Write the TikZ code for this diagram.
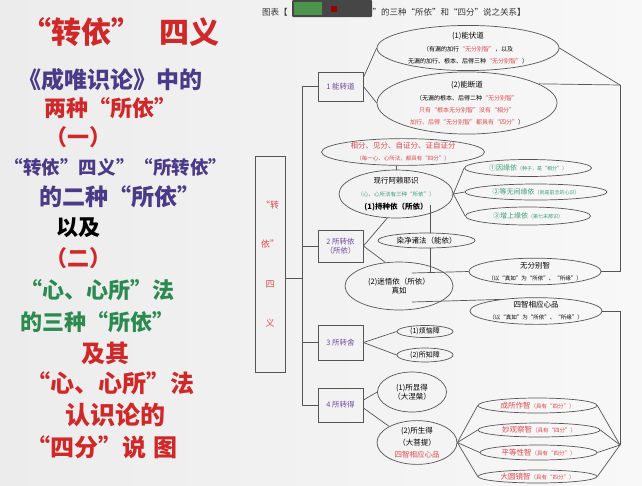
\documentclass[tikz,border=0pt]{standalone}
\usepackage{fontspec}
\setmainfont{Noto Sans CJK SC}
\usetikzlibrary{shapes.geometric}
\definecolor{bgl}{HTML}{ECECEC}
\definecolor{bgr}{HTML}{F8F8F8}
\definecolor{tred}{HTML}{D02828}
\definecolor{tpur}{HTML}{4B3A88}
\definecolor{tgrn}{HTML}{2A8A50}
\definecolor{dred}{HTML}{E0474B}
\definecolor{dgrn}{HTML}{3A9C74}
\definecolor{dpur}{HTML}{6E4AA0}
\definecolor{lnc}{HTML}{555555}
\newcommand\myfs[1]{\fontsize{#1}{#1}\selectfont\bfseries}
\newcommand\dfs[1]{\fontsize{#1}{\dimexpr #1pt*5/4\relax}\selectfont}
\newcommand\rd[1]{\textcolor{dred}{#1}}
\tikzset{
  lt/.style={inner sep=0pt},
  ell/.style={ellipse, draw=lnc, line width=0.7pt, inner sep=0pt, align=center},
  bx/.style={rectangle, draw=lnc, line width=0.9pt, inner sep=0pt, align=center, text=dpur, font=\dfs{7.5}},
  ln/.style={draw=lnc, line width=0.7pt},
}
\begin{document}
\begin{tikzpicture}[x=1pt,y=-1pt]
\shade[left color=bgl, right color=bgr] (0,0) rectangle (642,485);
\useasboundingbox (0,0) rectangle (642,485);

% ---------- left text ----------
\node[lt, text=tred, font=\myfs{30}] (L1) at (120,32) {“转依”\hspace{0.6em}四义};
\node[lt, text=tpur, font=\myfs{23}] (L2) at (110,80) {《成唯识论》中的};
\node[lt, text=tred, font=\myfs{22}] (L3) at (110,108) {两种“所依”};
\node[lt, text=tred, font=\myfs{22}] (L4) at (78,137) {（一）};
\node[lt, text=tpur, font=\myfs{18.5}] (L5) at (116,167) {“转依”四义”“所转依”};
\node[lt, text=tpur, font=\myfs{23}] (L6) at (120,197) {的二种“所依”};
\node[lt, text=black, font=\myfs{22}] (L7) at (78,228) {以及};
\node[lt, text=tred, font=\myfs{22}] (L8) at (78,258) {（二）};
\node[lt, text=tgrn, font=\myfs{22}] (L9) at (97,290) {“心、心所”法};
\node[lt, text=tgrn, font=\myfs{22}] (L10) at (97,322) {的三种“所依”};
\node[lt, text=tred, font=\myfs{24}] (L11) at (105,353) {及其};
\node[lt, text=tred, font=\myfs{24}] (L12) at (110,383) {“心、心所”法};
\node[lt, text=tred, font=\myfs{25}] (L13) at (115,415) {认识论的};
\node[lt, text=tred, font=\myfs{24}] (L14) at (102,447) {“四分”说\hspace{0.3em}图};

% ---------- title ----------
\node[lt, anchor=west, font=\dfs{8.5}, text=black!80] (ttl) at (262,12) {图表【“转依”与“心、心所”的三种“所依”和“四分”说之关系】};
\fill[gray!55!black, rounded corners=1pt] (292,0) rectangle (372,17);
\fill[green!40!black!70] (294,2) rectangle (322,15);
\fill[red!60!black] (331,6) rectangle (337,12);

% ---------- big box ----------
\node[rectangle, draw=lnc, line width=0.9pt, minimum width=30, minimum height=216, inner sep=0pt, align=center, text=dred, font=\fontsize{9}{39.5}\selectfont] (zy) at (270,264) {“转\\依”\\四\\义};

% spine
\coordinate (sp1) at (302,86.5);
\coordinate (sp4) at (302,405);
\draw[ln] (sp1) -- (sp4);
\draw[ln] ([yshift=-14pt]zy.east) -- ([yshift=-14pt]zy.east -| sp1);

% boxes
\node[bx, minimum width=45, minimum height=29] (b1) at (340.5,86.5) {1 能转道};
\node[bx, minimum width=45, minimum height=32] (b2) at (340.5,246) {2 所转依\\（所依）};
\node[bx, minimum width=45, minimum height=35] (b3) at (340.5,342.5) {3 所转舍};
\node[bx, minimum width=45, minimum height=34] (b4) at (340.5,405) {4 所转得};
\draw[ln] (sp1) -- (b1.west);
\draw[ln] (b2.west -| sp1) -- (b2.west);
\draw[ln] (b3.west -| sp1) -- (b3.west);
\draw[ln] (sp4) -- (b4.west);

% ---------- 1 能转道 ----------
\node[ell, minimum width=182, minimum height=40] (e11) at (468,48)
 {{\dfs{7.5}(1)能伏道}\\[1pt]
  {\dfs{6}（有漏的加行\rd{“无分别智”}，以及}\\
  {\dfs{6}无漏的加行、根本、后得三种\rd{“无分别智”}）}};
\node[ell, minimum width=180, minimum height=50] (e12) at (467,103)
 {{\dfs{7.5}(2)能断道}\\[1pt]
  {\dfs{6}（无漏的根本、后得二种\rd{“无分别智”}}\\
  {\dfs{6}\rd{只有“根本无分别智”没有“相分”}}\\
  {\dfs{6}\rd{加行、后得“无分别智”都具有“四分”}）}};
\draw[ln] ([yshift=9pt]b1.east) -- (e11.west);
\draw[ln] (b1.east) -- (e12.west);
\coordinate (r1) at (620,85);
\draw[ln] (e11.east) -- (r1);
\draw[ln] (e12.15) -- (r1);

% ---------- 2 所转依 ----------
\node[ell, minimum width=163, minimum height=23, text=dred] (e4f) at (403,152)
 {{\dfs{7.5}相分、见分、自证分、证自证分}\\
  {\dfs{5.5}（每一心、心所法，都具有“四分”）}};
\node[ell, minimum width=114, minimum height=48] (exx) at (396,194)
 {{\dfs{7.5}现行阿赖耶识}\\[1pt]
  {\dfs{5.5}\textcolor{dgrn}{（心、心所法有三种“所依”）}}\\[1pt]
  {\dfs{7.5}\bfseries(1)持种依（所依）}};
\draw[ln] (exx.north) -- (exx.north |- e4f.south);

\node[ell, minimum width=127, minimum height=17, text=dgrn] (g1) at (528,168)
 {{\dfs{7}①因缘依}{\dfs{5}（种子，是“相分”）}};
\node[ell, minimum width=142, minimum height=16, text=dgrn] (g2) at (536,192)
 {{\dfs{7}②等无间缘依}{\dfs{5}（就是前念的心识）}};
\node[ell, minimum width=125, minimum height=18, text=dgrn] (g3) at (528,216)
 {{\dfs{7}③增上缘依}{\dfs{5}（第七末那识）}};
\draw[ln] (exx.east) -- (g1.west);
\draw[ln] (exx.east) -- (g2.west);
\draw[ln] (exx.east) -- (g3.west);

\node[ell, minimum width=97, minimum height=15, font=\dfs{7.5}] (rj) at (426.5,240.5) {染净诸法（能依）};
\coordinate (v1) at (430,205);
\draw[ln] (v1) -- (v1 |- rj.north);

\node[ell, minimum width=108, minimum height=48, font=\dfs{7.5}] (mw) at (399,286) {(2)迷悟依（所依）\\真如};
\draw[ln] (b2.east) -- (exx.250);
\draw[ln] (b2.east) -- (mw.120);

\node[ell, minimum width=130, minimum height=25] (wf) at (535,271.5)
 {{\dfs{7.5}无分别智}\\
  {\dfs{5.5}（以“真如”为“所依”、“所缘”）}};
\node[ell, minimum width=132, minimum height=22] (sz) at (536,311)
 {{\dfs{7.5}四智相应心品}\\
  {\dfs{5.5}（以“真如”为“所依”、“所缘”）}};
\coordinate (h1) at (412,273);
\coordinate (h2) at (412,302);
\draw[ln] (v1 |- rj.south) -- (v1 |- h1);
\draw[ln] (h1) -- (wf.west);
\draw[ln] (h2) -- (sz.162);
\coordinate (r2) at (620,271.5);
\draw[ln] (r1) -- (r2) -- (wf.east);
\coordinate (r3) at (620,311);
\coordinate (r4) at (620,445);
\draw[ln] (sz.east) -- (r3) -- (r4);

% ---------- 3 所转舍 ----------
\node[ell, minimum width=56, minimum height=12, font=\dfs{7}] (f1) at (425,331.5) {(1)烦恼障};
\node[ell, minimum width=56, minimum height=14, font=\dfs{7}] (f2) at (425,355) {(2)所知障};
\draw[ln] (b3.east) -- (f1.west);
\draw[ln] (b3.east) -- (f2.west);

% ---------- 4 所转得 ----------
\node[ell, minimum width=69, minimum height=40, font=\dfs{7.5}] (d1) at (412,392) {(1)所显得\\（大涅槃）};
\node[ell, minimum width=80, minimum height=36] (d2) at (417,442.5)
 {{\dfs{7.5}(2)所生得}\\{\dfs{7.5}（大菩提）}\\{\dfs{7.5}\rd{四智相应心品}}};
\draw[ln] ([yshift=5pt]b4.east) -- (d1.west);
\draw[ln] ([yshift=-3pt]b4.east) -- (d2.150);

\node[ell, minimum width=119, minimum height=15, text=dred] (w1) at (537.5,405.5)
 {{\dfs{7.5}成所作智}{\dfs{5.5}（具有“四分”）}};
\node[ell, minimum width=122, minimum height=14, text=dred] (w2) at (539,430)
 {{\dfs{7.5}妙观察智}{\dfs{5.5}（具有“四分”）}};
\node[ell, minimum width=117, minimum height=15, text=dred] (w3) at (538.5,452.5)
 {{\dfs{7.5}平等性智}{\dfs{5.5}（具有“四分”）}};
\node[ell, minimum width=119, minimum height=13, text=dred] (w4) at (537.5,476.5)
 {{\dfs{7.5}大圆镜智}{\dfs{5.5}（具有“四分”）}};
\foreach \w in {w1,w2,w3,w4}{
  \draw[ln] (d2.east) -- (\w.west);
  \draw[ln] (\w.east) -- (r4);
}
\end{tikzpicture}
\end{document}
